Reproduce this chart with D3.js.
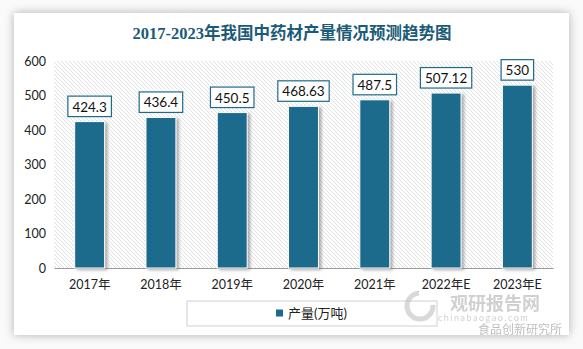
<!DOCTYPE html>
<html><head><meta charset="utf-8">
<script src="https://cdn.jsdelivr.net/npm/d3@7/dist/d3.min.js"></script>
<style>
html,body{margin:0;padding:0;background:#fff;}
svg{display:block;}
</style></head>
<body>
<svg id="chart" width="583" height="349"></svg>
<script>
const categories = ["2017年","2018年","2019年","2020年","2021年","2022年E","2023年E"];
const values = [424.3, 436.4, 450.5, 468.63, 487.5, 507.12, 530];
const valueLabels = ["424.3","436.4","450.5","468.63","487.5","507.12","530"];
const yTicks = [0,100,200,300,400,500,600];
const seriesName = "产量(万吨)";
const title = "2017-2023年我国中药材产量情况预测趋势图";

const svg = d3.select("#chart");
const defs = svg.append("defs");
const cardF = defs.append("filter").attr("id","cardShadow").attr("x","-10%").attr("y","-10%").attr("width","120%").attr("height","120%");
cardF.append("feDropShadow").attr("dx",0).attr("dy",0).attr("stdDeviation",5).attr("flood-color","#000").attr("flood-opacity",0.3);
const barF = defs.append("filter").attr("id","barShadow").attr("x","-20%").attr("y","-20%").attr("width","150%").attr("height","150%");
barF.append("feDropShadow").attr("dx",2.5).attr("dy",1.5).attr("stdDeviation",1.5).attr("flood-color","#777").attr("flood-opacity",0.6);
const pat = defs.append("pattern").attr("id","hatch").attr("patternUnits","userSpaceOnUse").attr("width",4).attr("height",4);
pat.append("rect").attr("width",4).attr("height",4).attr("fill","#fff");
pat.append("path").attr("d","M-1,-1 L5,5 M-1,3 L1,5 M3,-1 L5,1").attr("stroke","#d9d9d9").attr("stroke-width",0.8);

// background & card
svg.append("rect").attr("width",583).attr("height",349).attr("fill","#fafafa");
svg.append("rect").attr("x",14).attr("y",13).attr("width",555).attr("height",322).attr("fill","#fff").attr("filter","url(#cardShadow)");

svg.append("text").attr("x",292).attr("y",39).attr("text-anchor","middle")
  .attr("font-family","'Liberation Serif','Noto Sans CJK SC',serif").attr("font-weight","bold")
  .attr("font-size",16.5).attr("fill","#1b5b78").text(title);

const x = d3.scaleBand().domain(categories).range([54,553]).paddingInner(0.58).paddingOuter(0.29);
const y = d3.scaleLinear().domain([0,600]).range([268,61]);

svg.append("rect").attr("x",54).attr("y",y(600)).attr("width",499).attr("height",y(0)-y(600)).attr("fill","url(#hatch)");

const font = "Lato,'Noto Sans CJK SC',sans-serif";
const yAxis = svg.append("g").attr("transform","translate(54,0)")
  .call(d3.axisLeft(y).tickValues(yTicks).tickSize(0).tickPadding(8));
yAxis.select(".domain").remove();
yAxis.selectAll("text").attr("font-family",font).attr("font-size",12.5).attr("fill","#222");

const xAxis = svg.append("g").attr("transform",`translate(0,${y(0)})`)
  .call(d3.axisBottom(x).tickSize(0).tickPadding(12));
xAxis.select(".domain").attr("stroke","#999").attr("stroke-width",1.2);
xAxis.selectAll("text").attr("font-family",font).attr("font-size",12.5).attr("fill","#222");

const data = categories.map((c,i)=>({c, v:values[i], l:valueLabels[i]}));
svg.append("g").selectAll("rect").data(data).join("rect")
  .attr("x",d=>x(d.c)).attr("y",d=>y(d.v)).attr("width",x.bandwidth()).attr("height",d=>y(0)-y(d.v))
  .attr("fill","#1d6a8c").attr("stroke","#fff").attr("stroke-width",1).attr("filter","url(#barShadow)");

const lg = svg.append("g").selectAll("g").data(data).join("g");
lg.each(function(d){
  const g = d3.select(this);
  const cx = x(d.c)+x.bandwidth()/2;
  const t = g.append("text").attr("x",cx).attr("y",y(d.v)-10).attr("text-anchor","middle")
    .attr("font-family",font).attr("font-size",13.5).attr("fill","#111").text(d.l);
  const w = t.node().getComputedTextLength()+9;
  g.insert("rect","text").attr("x",cx-w/2).attr("y",y(d.v)-25.5).attr("width",w).attr("height",20.5)
    .attr("fill","#fff").attr("stroke","#1d6a8c").attr("stroke-width",1.2);
});

// legend
svg.append("rect").attr("x",187).attr("y",301).attr("width",250).attr("height",25).attr("fill","#fff").attr("stroke","#d0d0d0");
svg.append("rect").attr("x",276).attr("y",309.5).attr("width",7).attr("height",7).attr("fill","#1d6a8c");
svg.append("text").attr("x",288).attr("y",318).attr("font-family",font).attr("font-size",13).attr("fill","#222").text(seriesName);

// watermark
const wm = svg.append("g").attr("opacity",0.55);
wm.append("circle").attr("cx",420).attr("cy",306).attr("r",13).attr("fill","none").attr("stroke","#bbb").attr("stroke-width",5).attr("stroke-dasharray","60 20");
wm.append("text").attr("x",450).attr("y",310).attr("font-family","'Noto Sans CJK SC',sans-serif").attr("font-weight","bold").attr("font-size",18).attr("fill","#aaa").text("观研报告网");
wm.append("text").attr("x",438).attr("y",321).attr("font-family",font).attr("font-size",9).attr("fill","#aaa").attr("letter-spacing",1.5).text("chinabaogao.com");
wm.append("text").attr("x",478).attr("y",334).attr("font-family","'Noto Sans CJK SC',sans-serif").attr("font-size",12).attr("fill","#888").text("食品创新研究所");
</script>
</body></html>
